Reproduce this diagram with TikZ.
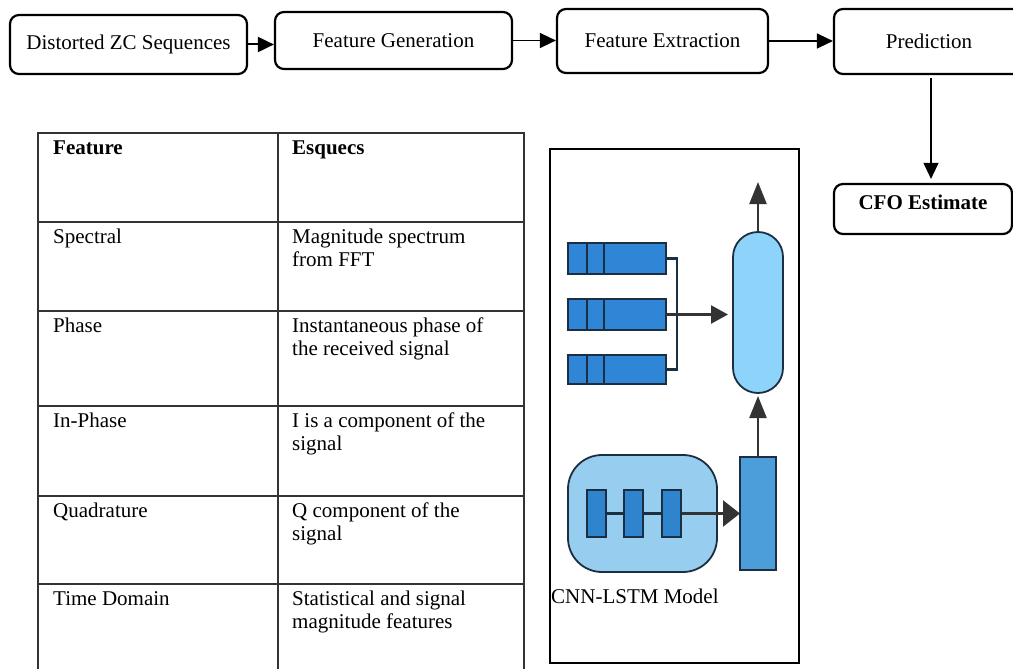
\documentclass[tikz,border=0pt]{standalone}
\usepackage{fontspec}
\setmainfont{Liberation Serif}
\usetikzlibrary{arrows.meta}
\definecolor{barblue}{HTML}{2F86D6}
\definecolor{edgeblue}{HTML}{1C2F42}
\definecolor{capsblue}{HTML}{8ED4FA}
\definecolor{blobblue}{HTML}{97CDEE}
\definecolor{cellblue}{HTML}{2E85CE}
\definecolor{colblue}{HTML}{4C9EDB}
\definecolor{arrowgray}{HTML}{333333}
\begin{document}
\begin{tikzpicture}[x=1pt,y=-1pt,
  every node/.style={font=\fontsize{21}{24}\selectfont},
  stage/.style={draw, line width=2.2pt, rounded corners=9pt, inner sep=0pt},
  flow/.style={line width=1.6pt, -{Triangle[length=16pt,width=15pt]}},
  cell/.style={anchor=base west, inner sep=0pt},
  grid/.style={line width=1.3pt, draw=black!80},
  blk/.style={draw=edgeblue, line width=1.8pt},
  nnarrow/.style={draw=arrowgray, line width=2.4pt}]
\useasboundingbox (0,0) rectangle (1013,669);

% ---------------- processing chain ----------------
\node[stage, minimum width=237pt, minimum height=59pt] (b1) at (128.5,44.5) {Distorted ZC Sequences};
\node[stage, minimum width=237pt, minimum height=57pt] (b2) at (393.5,40.5) {Feature Generation};
\node[stage, minimum width=211pt, minimum height=64pt] (b3) at (662.5,41) {Feature Extraction};
\node[stage, minimum width=190pt, minimum height=65pt] (b4) at (929,41.5) {Prediction};
\node[stage, minimum width=178pt, inner ysep=7.5pt, text height=18pt, text depth=17pt,
      font=\fontsize{21}{24}\selectfont\bfseries] (cfo) at (923,209) {CFO Estimate};

\draw[flow, line width=2pt] (b1.east) -- (b1.east -| b2.west);
\draw[flow, line width=1.5pt] (b2.east) -- (b2.east -| b3.west);
\draw[flow, line width=1.5pt] (b3.east) -- (b3.east -| b4.west);
\coordinate (pd) at (931,78);
\draw[flow, line width=1.2pt, shorten >=4pt] (pd) -- (pd |- cfo.north);

% ---------------- feature table ----------------
\draw[grid] (38,669) -- (38,133) -- (524,133) -- (524,669);
\draw[grid] (278,133) -- (278,669);
\foreach \y in {222,311,406,496,584}
  \draw[grid] (38,\y) -- (524,\y);

\node[cell, font=\fontsize{21}{24}\selectfont\bfseries] (h1) at (53,154) {Feature};
\node[cell, font=\fontsize{21}{24}\selectfont\bfseries] (h2) at (292,154) {Esquecs};

\node[cell] (f1) at (53,243) {Spectral};
\node[cell] (d1a) at (292,243) {Magnitude spectrum};
\node[cell] (d1b) at (292,266) {from FFT};

\node[cell] (f2) at (53,332) {Phase};
\node[cell] (d2a) at (292,332) {Instantaneous phase of};
\node[cell] (d2b) at (292,355) {the received signal};

\node[cell] (f3) at (53,427) {In-Phase};
\node[cell] (d3a) at (292,427) {I is a component of the};
\node[cell] (d3b) at (292,450) {signal};

\node[cell] (f4) at (53,517) {Quadrature};
\node[cell] (d4a) at (292,517) {Q component of the};
\node[cell] (d4b) at (292,540) {signal};

\node[cell] (f5) at (53,605) {Time Domain};
\node[cell] (d5a) at (292,605) {Statistical and signal};
\node[cell] (d5b) at (292,628) {magnitude features};

% ---------------- CNN-LSTM model sketch ----------------
\draw[line width=2pt] (550,149) rectangle (799,663);

% three feature sequences feeding the dense capsule
\foreach \t/\bt/\i in {243/274/1,299/330/2,355/384/3}{
  \draw[blk, fill=barblue] (568,\t) rectangle (666,\bt);
  \draw[blk] (587,\t) -- (587,\bt);
  \draw[blk] (604,\t) -- (604,\bt);
  \coordinate (s\i) at (666,{(\t+\bt)/2});
}
\draw[line width=2.2pt, draw=edgeblue] (s1) -- (677,258.5) -- (677,369.5) -- (s3);
\draw[blk, fill=capsblue, rounded corners=25pt] (733,232) rectangle (783,393);
\coordinate (capin) at (733,314.5);
\draw[nnarrow, -{Triangle[length=17pt,width=18pt]}] (s2) -- (capin -| 728,0);

\coordinate (capt) at (758,232);
\coordinate (outp) at (758,182);
\draw[nnarrow, -{Triangle[length=22pt,width=17pt]}] (capt) -- (outp);

% convolutional block with its three cells
\draw[blk, fill=blobblue, rounded corners=34pt] (568,455) rectangle (717,572);
\draw[blk, fill=colblue] (740,457) rectangle (776,570);
\draw[line width=2.2pt, draw=edgeblue] (607,513.5) -- (624,513.5) (643,513.5) -- (662,513.5);
\draw[nnarrow, -{Triangle[length=17pt,width=26pt]}] (681,513.5) -- (740,513.5);
\foreach \l in {587,624,662}
  \draw[blk, fill=cellblue] (\l,490) rectangle ++(19,47);
\coordinate (colt) at (758,457);
\draw[nnarrow, -{Triangle[length=22pt,width=17pt]}] (colt) -- (758,396);

\node[cell] (cap) at (551,603) {CNN-LSTM Model};
\end{tikzpicture}
\end{document}
